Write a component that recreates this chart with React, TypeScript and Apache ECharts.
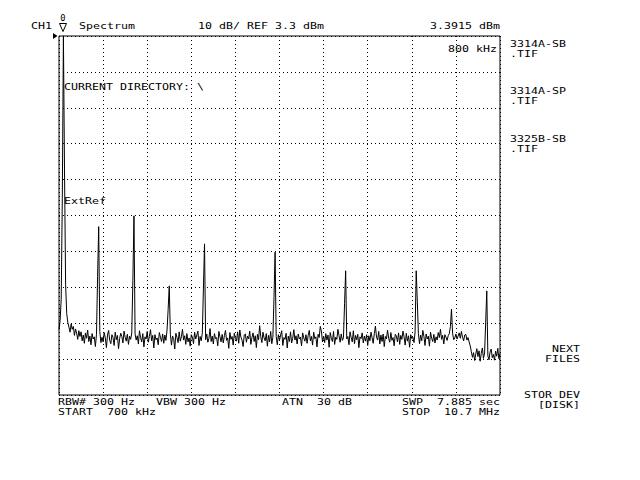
import React, { useEffect, useRef } from "react";
import * as echarts from "echarts";

const startMHz = 0.7;
const stopMHz = 10.7;
const refLevelDbm = 3.3;
const dbPerDiv = 10;
const divisions = 10;

// swept trace levels (dBm), 0.7 .. 10.7 MHz, 25 kHz per point
const traceLevels = [
  -78.5, -76.0, -70.0, -42.0, -20.0, -34.0, -66.0, -74.0, -76.5, -77.8, -79.2, -76.9, -78.4, -77.6, -80.1, -78.3, -79.5, -81.2, -78.8, -80.4,
  -79.1, -81.6, -80.0, -82.3, -79.4, -80.9, -78.6, -81.8, -80.3, -82.7, -79.6, -81.1, -80.5, -83.2, -79.8, -81.4, -80.2, -79.0, -82.1, -80.6,
  -81.9, -79.3, -80.8, -83.5, -80.0, -78.7, -81.5, -82.4, -79.9, -80.7, -82.9, -79.2, -81.3, -80.1, -83.8, -81.0, -79.5, -80.4, -82.2, -78.9,
  -80.6, -81.7, -79.8, -82.6, -80.3, -81.2, -79.4, -80.9, -83.0, -79.7, -81.4, -80.2, -82.5, -78.8, -80.7, -81.9, -79.6, -83.3, -80.5, -81.1,
  -79.0, -82.0, -80.4, -78.5, -81.6, -80.1, -83.6, -79.9, -81.3, -80.8, -82.7, -79.3, -80.6, -81.8, -79.7, -82.3, -80.0, -81.5, -78.6, -80.9,
  -81.2, -79.8, -82.8, -80.3, -81.0, -83.9, -79.5, -80.7, -82.1, -79.1, -81.7, -80.5, -78.4, -81.4, -80.2, -82.6, -79.6, -81.9, -80.8, -83.1,
  -79.9, -80.6, -82.4, -79.2, -81.1, -80.0, -78.9, -82.9, -80.4, -81.6, -79.4, -83.4, -80.1, -81.3, -79.7, -82.0, -80.9, -78.2, -81.8, -80.3,
  -82.5, -79.6, -81.0, -80.7, -83.0, -79.0, -80.5, -81.9, -79.8, -82.2, -80.2, -78.7, -81.5, -80.8, -83.7, -79.3, -81.2, -80.4, -82.8, -79.5,
  -80.9, -81.7, -79.1, -82.3, -78.6, -80.6, -81.4, -83.2, -80.0, -79.7, -82.0, -80.3, -81.1, -78.9, -82.6, -80.7, -79.4, -81.8, -80.2, -83.5,
  -79.8, -81.3, -77.4, -80.5, -82.1, -79.2, -80.8, -81.6, -79.6, -83.1, -80.1, -81.9, -79.0, -82.4, -80.6, -79.3, -81.0, -80.4, -82.7, -79.9,
  -81.5, -80.0, -78.8, -82.9, -80.7, -81.2, -79.5, -83.6, -80.3, -81.8, -79.1, -82.2, -80.9, -78.5, -81.4, -80.2, -82.5, -79.7, -81.1, -80.6,
  -83.0, -79.4, -80.8, -81.7, -79.9, -82.3, -80.1, -78.7, -81.6, -80.4, -82.8, -79.2, -81.0, -80.5, -83.3, -79.8, -80.7, -77.6, -78.9, -81.9,
  -80.3, -82.1, -79.6, -81.4, -80.0, -83.4, -79.3, -80.9, -81.8, -79.0, -82.6, -80.6, -81.2, -78.4, -80.2, -82.0, -79.7, -81.5, -80.8, -83.1,
  -79.5, -81.1, -80.4, -82.7, -79.1, -80.7, -81.9, -78.8, -82.4, -80.1, -81.3, -79.8, -83.5, -80.5, -81.0, -79.4, -82.2, -80.3, -81.7, -79.9,
  -82.9, -80.2, -81.6, -79.2, -80.8, -82.3, -79.6, -77.5, -80.6, -81.4, -79.0, -82.5, -80.0, -81.8, -79.7, -83.2, -80.4, -81.1, -78.6, -80.9,
  -82.0, -79.3, -81.5, -80.7, -83.0, -79.8, -80.3, -81.9, -79.4, -82.6, -80.1, -81.2, -78.9, -80.5, -82.8, -79.5, -81.7, -80.2, -83.4, -79.9,
  -81.0, -80.6, -82.1, -79.1, -80.8, -81.3, -79.6, -82.4, -80.0, -81.6, -78.7, -80.4, -82.9, -79.7, -81.1, -80.3, -83.1, -79.2, -80.9, -81.8,
  -79.8, -82.2, -80.5, -81.4, -79.3, -80.7, -78.4, -81.2, -80.1, -82.5, -79.9, -80.6, -81.5, -80.2, -79.6, -81.0, -80.4, -79.5, -81.3, -80.8,
  -79.7, -81.1, -80.3, -79.4, -80.9, -79.0, -80.6, -81.6, -80.0, -79.8, -81.4, -80.7, -81.9, -83.0, -84.6, -86.2, -84.9, -87.1, -85.3, -83.8,
  -86.0, -84.4, -87.3, -85.1, -83.6, -86.5, -85.0, -87.6, -84.2, -85.8, -86.9, -84.7, -83.9, -86.3, -85.4, -87.0, -84.5, -85.9, -83.7, -86.6,
  -85.2,
];

// carrier and its harmonics / spurs
const peakFreqsMHz = [0.8, 1.6, 2.4, 3.2, 4.0, 5.6, 7.2, 8.8, 9.6, 10.4];
const peakLevelsDbm = [3.39, -49.8, -46.8, -66.3, -54.6, -56.9, -62.1, -62.1, -72.8, -67.7];
const shoulderLevelsDbm = [-34.0, -63.7, -64.9, -72.8, -66.9, -69.6, -71.3, -70.7, -77.7, -76.6];
const shoulderOffsets = [1, -1, -1, -1, -1, -1, -1, 1, -1, -1];

const headerTexts = ["CH1", "Spectrum", "10 dB/ REF 3.3 dBm", "3.3915 dBm"];
const markerFreqText = "800 kHz";
const fileNames = ["3314A-SB", "3314A-SP", "3325B-SB"];
const fileExt = ".TIF";
const footerRow1 = ["RBW# 300 Hz", "VBW 300 Hz", "ATN  30 dB", "SWP  7.885 sec"];
const footerRow2 = ["START  700 kHz", "STOP  10.7 MHz"];
const softKeys = [["NEXT", "FILES"], ["STOR DEV", "[DISK]"]];
const dirText = "CURRENT DIRECTORY: \\";
const extRefText = "ExtRef";

const FONT = '"DejaVu Sans Mono", "Liberation Mono", monospace';
const FS = 9.5;
const SX = 7 / (0.602 * FS); // stretch to the screen's 7px character cell

function txt(text: string, x: number, y: number, align: string = "left", size: number = FS, sx: number = SX) {
  return {
    type: "text",
    x,
    y,
    scaleX: sx,
    silent: true,
    style: {
      text,
      fill: "#000",
      fontSize: size,
      fontFamily: FONT,
      align,
      verticalAlign: "middle",
    },
  };
}

export default function App() {
  const ref = useRef<HTMLDivElement>(null);

  useEffect(() => {
    if (!ref.current) return;
    const chart = echarts.init(ref.current, null, { renderer: "svg" });

    const n = traceLevels.length;
    const step = (stopMHz - startMHz) / (n - 1);
    const levels = traceLevels.slice();
    peakFreqsMHz.forEach((f, k) => {
      const i = Math.round((f - startMHz) / step);
      levels[i] = peakLevelsDbm[k];
      const j = i + shoulderOffsets[k];
      if (j >= 0 && j < n) levels[j] = shoulderLevelsDbm[k];
    });
    const data = levels.map((v, i) => [startMHz + i * step, v]);

    const gridAxisStyle = {
      axisLine: { show: false },
      axisTick: { show: false },
      axisLabel: { show: false },
      splitLine: { show: true, lineStyle: { color: "#000", width: 1, type: [1, 3] } },
    };

    const graphic: any[] = [];
    const hdrX = [31, 79, 198, 430];
    headerTexts.forEach((t, i) => graphic.push(txt(t, hdrX[i], 26)));
    graphic.push(txt(markerFreqText, 448, 49));
    const fileY = [44, 91, 139];
    fileNames.forEach((t, i) => {
      graphic.push(txt(t, 510, fileY[i]));
      graphic.push(txt(fileExt, 510, fileY[i] + 10));
    });
    graphic.push(txt(dirText, 64, 87));
    graphic.push(txt(extRefText, 64, 201));
    const f1x = [58, 156, 282, 402];
    footerRow1.forEach((t, i) => graphic.push(txt(t, f1x[i], 402)));
    const f2x = [58, 402];
    footerRow2.forEach((t, i) => graphic.push(txt(t, f2x[i], 412)));
    const skY = [348.5, 395];
    softKeys.forEach((pair, i) => {
      graphic.push(txt(pair[0], 580, skY[i], "right"));
      graphic.push(txt(pair[1], 580, skY[i] + 10, "right"));
    });
    // reference-level pointer and marker symbol
    graphic.push({
      type: "polygon",
      silent: true,
      shape: { points: [[53, 33], [57.5, 36], [53, 39]] },
      style: { fill: "#000" },
    });
    graphic.push({
      type: "polygon",
      silent: true,
      shape: { points: [[59.5, 23.5], [66.5, 23.5], [63, 31.5]] },
      style: { fill: "#fff", stroke: "#000", lineWidth: 1 },
    });
    graphic.push(txt("0", 63, 18.5, "center", 8, 1.1));

    chart.setOption({
      animation: false,
      backgroundColor: "#fff",
      grid: {
        left: 59,
        top: 36,
        width: 441,
        height: 359,
        show: true,
        borderColor: "#000",
        borderWidth: 1,
        backgroundColor: "transparent",
      },
      xAxis: [
        { type: "value", min: startMHz, max: stopMHz, show: false },
        { type: "value", min: 0, max: divisions, interval: 1, ...gridAxisStyle },
      ],
      yAxis: [
        { type: "value", min: refLevelDbm - divisions * dbPerDiv, max: refLevelDbm, show: false },
        { type: "value", min: 0, max: divisions, interval: 1, ...gridAxisStyle },
      ],
      series: [
        {
          type: "line",
          xAxisIndex: 0,
          yAxisIndex: 0,
          data,
          showSymbol: false,
          symbol: "none",
          clip: true,
          lineStyle: { color: "#000", width: 1 },
          z: 5,
        },
      ],
      graphic,
    });

    return () => chart.dispose();
  }, []);

  return (
    <div
      ref={ref}
      style={{ position: "absolute", left: 0, top: 0, width: 640, height: 480 }}
    />
  );
}
